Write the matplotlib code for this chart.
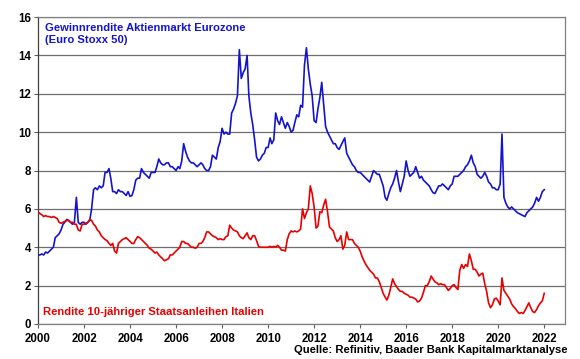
import matplotlib
matplotlib.use("Agg")
import matplotlib.pyplot as plt
import pandas as pd

plt.rcParams['font.family'] = ['Liberation Sans', 'DejaVu Sans']

# Monthly values, Jan 2000 .. Jan 2022
earnings_yield = [
    3.6, 3.6, 3.65, 3.6, 3.75, 3.7, 3.8, 3.9, 4.0, 4.5, 4.6, 4.7,        # 2000
    4.9, 5.2, 5.3, 5.45, 5.4, 5.3, 5.2, 5.3, 6.6, 5.3, 5.2, 5.3,         # 2001
    5.3, 5.2, 5.3, 5.4, 6.0, 7.0, 7.1, 7.0, 7.2, 7.1, 7.2, 7.9,          # 2002
    7.9, 8.1, 7.6, 6.9, 6.9, 6.8, 7.0, 6.9, 6.9, 6.8, 6.7, 6.9,          # 2003
    6.65, 6.7, 7.0, 7.5, 7.6, 7.6, 8.1, 7.9, 7.8, 7.7, 7.6, 7.9,         # 2004
    7.9, 7.9, 8.2, 8.6, 8.4, 8.3, 8.3, 8.4, 8.4, 8.2, 8.2, 8.1,          # 2005
    8.0, 8.2, 8.1, 8.5, 9.4, 9.0, 8.7, 8.5, 8.4, 8.4, 8.3, 8.2,          # 2006
    8.3, 8.4, 8.3, 8.1, 8.0, 8.0, 8.2, 8.8, 8.7, 8.6, 9.2, 9.5,          # 2007
    10.2, 9.9, 10.0, 9.9, 9.9, 11.0, 11.2, 11.5, 11.9, 14.3, 12.8, 13.1, # 2008
    13.3, 14.0, 11.9, 11.0, 10.4, 9.6, 8.7, 8.5, 8.6, 8.8, 8.9, 9.2,     # 2009
    9.2, 9.7, 9.4, 9.6, 11.0, 10.6, 10.4, 10.8, 10.5, 10.2, 10.5, 10.3,  # 2010
    10.0, 10.1, 10.5, 10.9, 10.8, 11.4, 11.3, 13.5, 14.4, 13.3, 12.5, 11.9,  # 2011
    10.6, 10.5, 11.2, 11.8, 12.6, 11.4, 10.3, 10.0, 9.8, 9.6, 9.4, 9.4,  # 2012
    9.2, 9.1, 9.3, 9.5, 9.7, 8.9, 8.7, 8.5, 8.3, 8.2, 8.0, 7.9,          # 2013
    7.9, 7.8, 7.7, 7.6, 7.5, 7.4, 7.7, 8.0, 7.9, 7.8, 7.8, 7.5,          # 2014
    7.2, 6.6, 6.45, 6.8, 7.1, 7.3, 7.6, 8.0, 7.4, 6.9, 7.3, 7.7,         # 2015
    8.5, 8.0, 7.7, 7.8, 7.9, 8.2, 7.9, 7.6, 7.7, 7.5, 7.4, 7.3,          # 2016
    7.2, 7.0, 6.85, 6.8, 7.0, 7.2, 7.2, 7.3, 7.2, 7.1, 7.0, 7.2,         # 2017
    7.3, 7.7, 7.7, 7.7, 7.8, 7.9, 8.0, 8.2, 8.3, 8.5, 8.8, 8.4,          # 2018
    8.2, 7.8, 7.7, 7.6, 7.7, 7.9, 7.7, 7.4, 7.3, 7.1, 7.1, 7.0,          # 2019
    7.0, 7.3, 9.9, 6.6, 6.3, 6.1, 6.0, 6.1, 6.0, 5.9, 5.8, 5.75,         # 2020
    5.7, 5.65, 5.6, 5.8, 5.9, 6.0, 6.1, 6.3, 6.6, 6.4, 6.6, 6.9,         # 2021
    7.0,                                                                 # 2022
]

italy_10y = [
    5.85, 5.75, 5.7, 5.6, 5.65, 5.6, 5.6, 5.55, 5.6, 5.55, 5.5, 5.3,     # 2000
    5.25, 5.3, 5.35, 5.4, 5.4, 5.3, 5.3, 5.2, 5.2, 4.9, 4.85, 5.2,       # 2001
    5.2, 5.25, 5.3, 5.45, 5.4, 5.2, 5.1, 4.9, 4.8, 4.6, 4.5, 4.4,        # 2002
    4.35, 4.2, 4.1, 4.2, 3.8, 3.7, 4.2, 4.3, 4.4, 4.45, 4.5, 4.4,        # 2003
    4.3, 4.2, 4.2, 4.4, 4.55, 4.5, 4.4, 4.3, 4.2, 4.1, 3.95, 3.9,        # 2004
    3.8, 3.7, 3.75, 3.6, 3.5, 3.4, 3.3, 3.35, 3.4, 3.6, 3.6, 3.7,        # 2005
    3.8, 3.9, 4.0, 4.3, 4.3, 4.2, 4.2, 4.1, 4.0, 4.0, 3.95, 4.0,         # 2006
    4.2, 4.2, 4.3, 4.5, 4.8, 4.8, 4.7, 4.6, 4.55, 4.5, 4.4, 4.45,        # 2007
    4.4, 4.4, 4.55, 4.6, 5.15, 5.0, 4.9, 4.85, 4.8, 4.6, 4.5, 4.45,      # 2008
    4.6, 4.75, 4.5, 4.4, 4.6, 4.6, 4.35, 4.05, 4.0, 4.0, 4.0, 4.0,       # 2009
    4.0, 4.05, 4.0, 4.05, 4.0, 4.1, 4.0, 3.85, 3.85, 3.8, 4.4, 4.7,      # 2010
    4.85, 4.8, 4.85, 4.8, 4.85, 4.95, 6.0, 5.5, 5.8, 6.0, 7.2, 6.8,      # 2011
    6.1, 5.0, 5.1, 5.85, 5.8, 6.2, 6.5, 5.85, 5.05, 4.95, 4.85, 4.5,     # 2012
    4.3, 4.4, 4.6, 3.9, 4.1, 4.8, 4.4, 4.4, 4.4, 4.2, 4.1, 4.0,          # 2013
    3.8, 3.5, 3.3, 3.1, 2.95, 2.8, 2.7, 2.6, 2.4, 2.4, 2.2, 1.9,         # 2014
    1.6, 1.4, 1.25, 1.5, 1.9, 2.35, 2.1, 1.95, 1.8, 1.7, 1.7, 1.6,       # 2015
    1.55, 1.5, 1.4, 1.4, 1.35, 1.3, 1.15, 1.2, 1.35, 1.65, 2.0, 2.0,     # 2016
    2.2, 2.5, 2.35, 2.2, 2.15, 2.05, 2.1, 2.05, 2.05, 1.9, 1.75, 1.85,   # 2017
    2.0, 2.05, 1.9, 1.8, 2.8, 3.1, 2.9, 3.1, 3.0, 3.65, 3.3, 2.85,       # 2018
    2.85, 2.7, 2.5, 2.6, 2.65, 2.1, 1.7, 1.1, 0.85, 1.0, 1.3, 1.35,      # 2019
    1.2, 1.0, 2.4, 1.75, 1.6, 1.45, 1.3, 1.05, 0.9, 0.8, 0.65, 0.55,     # 2020
    0.6, 0.55, 0.7, 0.9, 1.1, 0.85, 0.65, 0.6, 0.75, 0.95, 1.1, 1.2,     # 2021
    1.6,                                                                 # 2022
]

dates = pd.date_range("2000-01-01", periods=len(earnings_yield), freq="MS")

y_ticks = [0, 2, 4, 6, 8, 10, 12, 14, 16]
x_tick_years = list(range(2000, 2023, 2))

label_blue = "Gewinnrendite Aktienmarkt Eurozone\n(Euro Stoxx 50)"
label_red = "Rendite 10-jähriger Staatsanleihen Italien"
source = "Quelle: Refinitiv, Baader Bank Kapitalmarktanalyse"

blue = "#1414CC"
red = "#E80000"

fig = plt.figure(figsize=(5.8, 3.59), dpi=100)
ax = fig.add_axes([0.0655, 0.0975, 0.9085, 0.855])

ax.plot(dates, earnings_yield, color=blue, lw=1.2, zorder=3)
ax.plot(dates, italy_10y, color=red, lw=1.2, zorder=3)

ax.set_ylim(0, 16)
ax.set_yticks(y_ticks)
ax.set_xlim(pd.Timestamp("2000-01-01"), pd.Timestamp("2022-11-25"))
ax.set_xticks([pd.Timestamp(f"{y}-01-01") for y in x_tick_years])
ax.set_xticklabels([str(y) for y in x_tick_years])

ax.grid(axis='y', color='#6E6E6E', lw=0.9, zorder=1)
for s in ['top', 'right', 'bottom']:
    ax.spines[s].set_color('#808080')
    ax.spines[s].set_linewidth(0.9)
ax.spines['left'].set_color('#404040')
ax.spines['left'].set_linewidth(0.9)
ax.tick_params(axis='both', labelsize=8.3, length=3, width=0.8, color='#606060')
ax.tick_params(axis='x', pad=3.5)
ax.tick_params(axis='y', pad=2)
for lab in ax.get_xticklabels() + ax.get_yticklabels():
    lab.set_fontweight('bold')

ax.text(0.013, 0.98, label_blue, transform=ax.transAxes, color=blue,
        fontsize=8.1, fontweight='bold', va='top', ha='left', linespacing=1.2)
ax.text(0.010, 0.022, label_red, transform=ax.transAxes, color=red,
        fontsize=8.1, fontweight='bold', va='bottom', ha='left')

fig.text(0.979, 0.012, source, color='black', fontsize=8.1, fontweight='bold',
         ha='right', va='bottom')

fig.savefig("out.png", dpi=100)
